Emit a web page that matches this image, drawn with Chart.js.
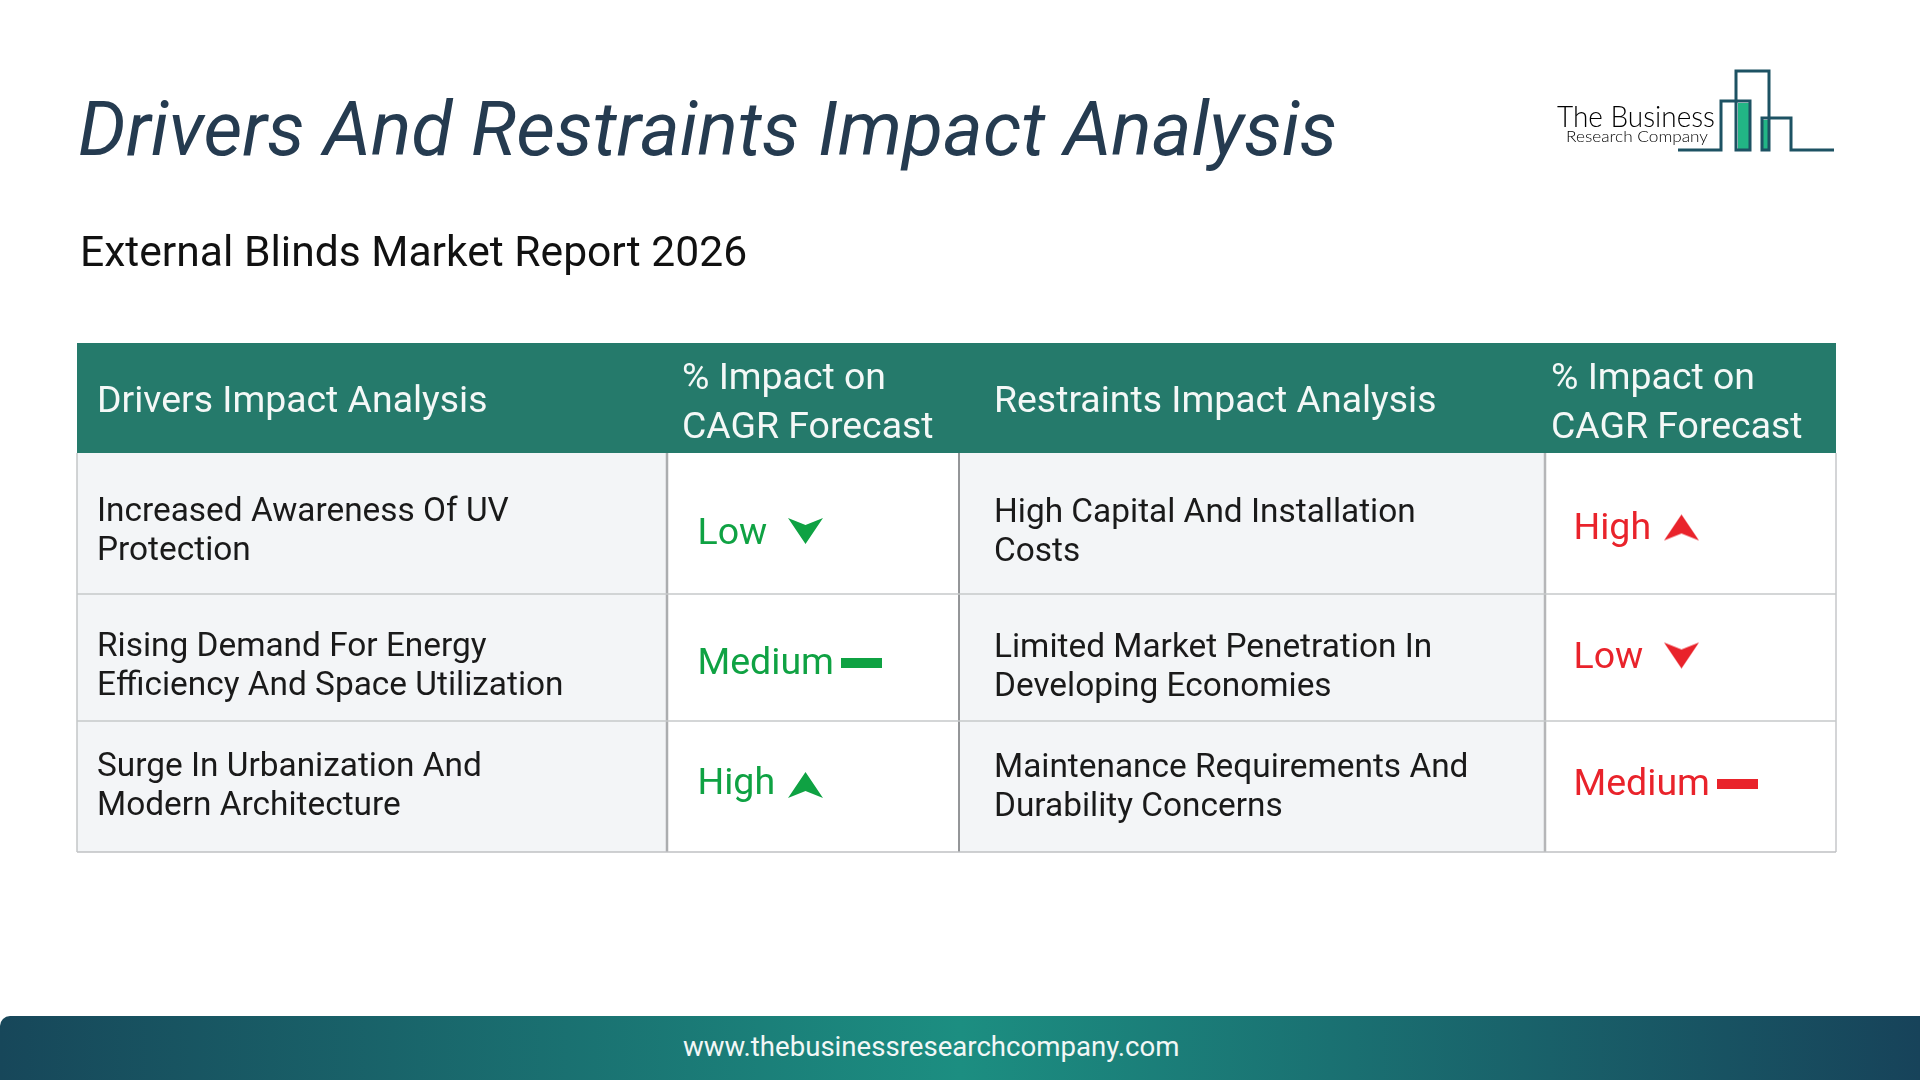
<!DOCTYPE html>
<html>
<head>
<meta charset="utf-8">
<title>Drivers And Restraints Impact Analysis</title>
<script src="https://cdn.jsdelivr.net/npm/chart.js@4"></script>
<style>
  html, body { margin: 0; padding: 0; background: #fff; width: 1920px; height: 1080px; overflow: hidden; font-family: Roboto, sans-serif; }
  #chart { position: absolute; left: 0; top: 0; }
  h1 { position: absolute; left: 78px; top: 86px; margin: 0; font-size: 75.4px; line-height: 86px; font-weight: 400; font-style: italic; color: #253b50; white-space: nowrap; }
  h2 { position: absolute; left: 80px; top: 226px; margin: 0; font-size: 42.6px; line-height: 50px; font-weight: 400; color: #111; white-space: nowrap; }
  #logo { position: absolute; left: 1500px; top: 50px; }
  #footer { position: absolute; left: 0; top: 1016px; width: 1920px; height: 64px; border-top-left-radius: 10px;
    background: linear-gradient(90deg, #17475a 0%, #1c8e81 50%, #17435a 100%); }
  #footer span { position: absolute; left: 683px; top: 14px; font-size: 27.6px; line-height: 34px; color: #f2f7f6; white-space: nowrap; }
</style>
</head>
<body>
<canvas id="chart" width="1920" height="1080"></canvas>
<h1>Drivers And Restraints Impact Analysis</h1>
<h2>External Blinds Market Report 2026</h2>
<svg id="logo" width="400" height="120" viewBox="1500 50 400 120">
  <rect x="1738" y="103" width="12" height="47" fill="#22b585"/>
  <rect x="1763" y="120" width="6" height="30" fill="#22b585"/>
  <g fill="none" stroke="#1d5263" stroke-width="3">
    <path d="M1678 150H1721V101H1750V150H1736V71H1769V150H1762V118H1791V150H1834"/>
  </g>
  <text x="1557" y="127" font-family="Lato" font-weight="300" font-size="30" fill="#000" textLength="158" lengthAdjust="spacingAndGlyphs">The Business</text>
  <text x="1566" y="142" font-family="Lato" font-weight="300" font-size="16.5" fill="#000" textLength="142" lengthAdjust="spacingAndGlyphs">Research Company</text>
</svg>
<div id="footer"><span>www.thebusinessresearchcompany.com</span></div>

<script>
// ---------- DATOS ----------
const headerLabels = [
  ["Drivers Impact Analysis"],
  ["% Impact on", "CAGR Forecast"],
  ["Restraints Impact Analysis"],
  ["% Impact on", "CAGR Forecast"],
];
const drivers = [
  ["Increased Awareness Of UV", "Protection"],
  ["Rising Demand For Energy", "Efficiency And Space Utilization"],
  ["Surge In Urbanization And", "Modern Architecture"],
];
const driverImpact = ["Low", "Medium", "High"];
const restraints = [
  ["High Capital And Installation", "Costs"],
  ["Limited Market Penetration In", "Developing Economies"],
  ["Maintenance Requirements And", "Durability Concerns"],
];
const restraintImpact = ["High", "Low", "Medium"];

// ---------- LAYOUT (pixeles de pagina) ----------
const colEdges = [77, 667, 959, 1545, 1836];
const rowEdges = [343, 453, 594, 721, 852];
const headerTextX = [97, 682, 994, 1551];
const headerLineY = [380, 429];
const headerSingleY = 403;
const cellTextX = [97, 697.5, 994, 1573.5];
const lineGap = 39;
const driverFirstLineY = [513, 647.5, 768];
const restraintFirstLineY = [513.5, 649, 769];
const driverImpactY = [535, 665, 785];
const restraintImpactY = [530, 659, 786];
const driverMarkNudge = [-4, -2, 0];
const restraintMarkNudge = [-2.5, -3.5, -2];
const markOffsetX = { Low: 108, High: 108, Medium: 164 };

const GREEN = "#0fa243";
const RED = "#e9232b";

// dibuja el icono de cada nivel en un canvas para usarlo como pointStyle
function makeMark(level, color) {
  const c = document.createElement("canvas");
  if (level === "Medium") {
    c.width = 41; c.height = 10;
  } else {
    c.width = 37; c.height = 28;
  }
  const ctx = c.getContext("2d");
  ctx.fillStyle = color;
  if (level === "Medium") {
    ctx.fillRect(0, 0, 41, 10);
    return c;
  }
  ctx.beginPath();
  if (level === "High") {
    ctx.moveTo(18.5, 1); ctx.lineTo(36, 27); ctx.lineTo(18.5, 20); ctx.lineTo(1, 27);
  } else {
    ctx.moveTo(18.5, 27); ctx.lineTo(36, 1); ctx.lineTo(18.5, 8); ctx.lineTo(1, 1);
  }
  ctx.closePath();
  ctx.fill();
  return c;
}

// una columna = un dataset de barras flotantes, una barra por fila
function columnBars(i, bodyColor) {
  const center = (colEdges[i] + colEdges[i + 1]) / 2;
  return {
    type: "bar",
    grouped: false,
    maxBarThickness: colEdges[i + 1] - colEdges[i],
    barPercentage: 20,
    categoryPercentage: 1,
    borderWidth: 0,
    inflateAmount: 0,
    order: 3,
    data: rowEdges.slice(0, -1).map((top, r) => ({ x: center, y: [top, rowEdges[r + 1]] })),
    backgroundColor: rowEdges.slice(0, -1).map((_, r) => (r === 0 ? "#257a6b" : bodyColor)),
  };
}

function rule(x1, y1, x2, y2, color, width) {
  return {
    type: "line",
    order: 2,
    data: [{ x: x1, y: y1 }, { x: x2, y: y2 }],
    borderColor: color,
    borderWidth: width,
    pointRadius: 0,
    tension: 0,
  };
}

function marks(levels, col, firstY, nudge, color) {
  return {
    type: "scatter",
    order: 1,
    data: levels.map((level, r) => ({
      x: cellTextX[col] + markOffsetX[level],
      y: firstY[r] + nudge[r],
    })),
    pointStyle: levels.map((level) => makeMark(level, color)),
    pointRadius: 10,
    borderWidth: 0,
  };
}

// ---------- TEXTOS DE LA TABLA ----------
const tableText = {
  id: "tableText",
  afterDatasetsDraw(chart) {
    const { ctx, scales } = chart;
    const put = (text, x, y, font, color) => {
      ctx.font = font;
      ctx.fillStyle = color;
      ctx.fillText(text, scales.x.getPixelForValue(x), scales.y.getPixelForValue(y));
    };
    ctx.save();
    ctx.textBaseline = "middle";
    ctx.textAlign = "left";

    headerLabels.forEach((lines, i) => {
      lines.forEach((line, k) => {
        const y = lines.length === 1 ? headerSingleY : headerLineY[k];
        put(line, headerTextX[i], y, "400 37.4px Roboto", "#f4f8f7");
      });
    });

    const cellFont = "400 33.4px Roboto";
    drivers.forEach((lines, r) => {
      lines.forEach((line, k) => put(line, cellTextX[0], driverFirstLineY[r] + k * lineGap, cellFont, "#1a1a1a"));
    });
    restraints.forEach((lines, r) => {
      lines.forEach((line, k) => put(line, cellTextX[2], restraintFirstLineY[r] + k * lineGap, cellFont, "#1a1a1a"));
    });
    driverImpact.forEach((level, r) => put(level, cellTextX[1], driverImpactY[r], "400 37.5px Roboto", GREEN));
    restraintImpact.forEach((level, r) => put(level, cellTextX[3], restraintImpactY[r], "400 37.5px Roboto", RED));
    ctx.restore();
  },
};

new Chart(document.getElementById("chart"), {
  type: "bar",
  data: {
    datasets: [
      columnBars(0, "#f3f5f7"),
      columnBars(1, "#ffffff"),
      columnBars(2, "#f3f5f7"),
      columnBars(3, "#ffffff"),
      rule(colEdges[0], rowEdges[1], colEdges[0], rowEdges[4], "#c4c6c8", 1.5),
      rule(colEdges[0], rowEdges[2], colEdges[4], rowEdges[2], "#c6c8ca", 1.5),
      rule(colEdges[0], rowEdges[3], colEdges[4], rowEdges[3], "#c6c8ca", 1.5),
      rule(colEdges[0], rowEdges[4], colEdges[4], rowEdges[4], "#bfc1c3", 1.5),
      rule(colEdges[1], rowEdges[1], colEdges[1], rowEdges[4], "#abadaf", 2.5),
      rule(colEdges[2], rowEdges[1], colEdges[2], rowEdges[4], "#85878a", 1),
      rule(colEdges[3], rowEdges[1], colEdges[3], rowEdges[4], "#b5b6b8", 2.5),
      rule(colEdges[4], rowEdges[1], colEdges[4], rowEdges[4], "#c6c8ca", 1.5),
      marks(driverImpact, 1, driverImpactY, driverMarkNudge, GREEN),
      marks(restraintImpact, 3, restraintImpactY, restraintMarkNudge, RED),
    ],
  },
  options: {
    responsive: false,
    animation: false,
    devicePixelRatio: 1,
    layout: { padding: 0, autoPadding: false },
    plugins: { legend: { display: false }, tooltip: { enabled: false }, title: { display: false } },
    scales: {
      x: { type: "linear", min: 0, max: 1920, offset: false, display: false },
      y: { type: "linear", min: 0, max: 1080, reverse: true, display: false },
    },
  },
  plugins: [tableText],
});
</script>
</body>
</html>
